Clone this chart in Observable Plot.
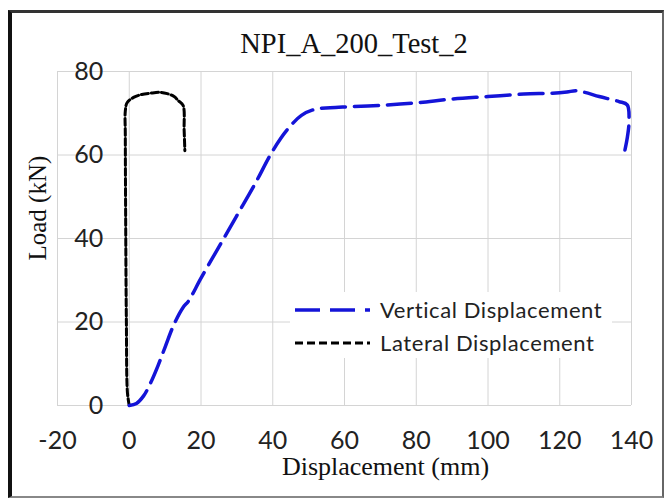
<!DOCTYPE html>
<html>
<head>
<meta charset="utf-8">
<script src="https://cdn.jsdelivr.net/npm/d3@7"></script>
<script src="https://cdn.jsdelivr.net/npm/@observablehq/plot@0.6"></script>
<style>
  body { margin: 0; background: #fff; }
  #wrap { position: relative; width: 667px; height: 500px; overflow: hidden; background: #fff; }
  #frame { position: absolute; left: 8px; top: 10px; width: 656px; height: 488px; box-sizing: border-box;
           border-left: 4px solid #111; border-top: 3px solid #333; border-right: 2px solid #666; border-bottom: 2px solid #888; }
  #title { position: absolute; top: 30px; left: 354px; transform: translateX(-50%);
           font: 28.5px/28px "Liberation Serif", "Times New Roman", serif; white-space: nowrap; color: #111; }
  #chart { position: absolute; left: 0; top: 40px; }
  #legend { position: absolute; left: 290px; top: 292px; }
</style>
</head>
<body>
<div id="wrap">
  <div id="frame"></div>
  <div id="title"></div>
  <div id="chart"></div>
  <svg id="legend" width="322" height="66"></svg>
</div>
<script>
// ---- data ----
const chartTitle = "NPI_A_200_Test_2";
const xLabel = "Displacement (mm)";
const yLabel = "Load (kN)";
const xTicks = [-20, 0, 20, 40, 60, 80, 100, 120, 140];
const yTicks = [0, 20, 40, 60, 80];
const seriesNames = ["Vertical Displacement", "Lateral Displacement"];

const vertX = [0, 2, 4, 6, 8, 10, 12.5, 15, 16.5, 20, 25, 30, 35, 40, 44, 48, 52, 56, 60, 70, 80, 90, 100, 110, 118, 122, 124.5, 127, 131, 136.5, 138.8, 139.3, 138.8, 138];
const vertY = [0, 0.5, 2.3, 5.5, 9.5, 14, 19.5, 23.5, 25, 30.5, 38, 45.5, 53, 61, 66, 69.5, 71, 71.3, 71.5, 71.9, 72.5, 73.4, 74, 74.6, 74.8, 75.1, 75.4, 75, 74, 72.8, 72, 68, 64, 60.5];

const latX = [0, -0.5, -0.8, -1.0, -1.1, -1.1, -0.6, 1.2, 3.5, 5.9, 8.7, 10.6, 12.5, 13.7, 15, 15.3, 15.5];
const latY = [0, 3, 20, 45, 65, 70.5, 72.5, 73.8, 74.5, 74.8, 75, 74.7, 74, 73, 71.9, 66, 61];

const colors = ["#1414d8", "#000000"];
const dashes = ["24,9", "7,3"];

// ---- build ----
const vert = vertX.map((x, i) => ({x, y: vertY[i]}));
const lat = latX.map((x, i) => ({x, y: latY[i]}));

document.getElementById("title").textContent = chartTitle;

const serif = "'Liberation Serif', 'Times New Roman', serif";
const sans = "Lato, 'Open Sans', sans-serif";

const chart = Plot.plot({
  width: 667,
  height: 460,
  marginLeft: 57,
  marginRight: 36,
  marginTop: 31,
  marginBottom: 95,
  x: {domain: [-20, 140]},
  y: {domain: [0, 80], axis: null},
  style: {background: "transparent", fontFamily: sans},
  marks: [
    Plot.gridX(xTicks, {stroke: "#d4d4d4", strokeOpacity: 1, strokeWidth: 1}),
    Plot.gridY(yTicks, {stroke: "#d4d4d4", strokeOpacity: 1, strokeWidth: 1}),
    Plot.axisX(xTicks, {tickSize: 0, tickPadding: 26, fontSize: 25, label: null, fill: "#222", tickFormat: d => String(d)}),
    Plot.text(yTicks, {x: () => 0, y: d => d, text: d => String(d), dx: -26, textAnchor: "end", fontSize: 25, fill: "#222"}),
    Plot.line(lat, {x: "x", y: "y", stroke: colors[1], strokeWidth: 3, strokeDasharray: dashes[1], curve: "catmull-rom"}),
    Plot.line(vert, {x: "x", y: "y", stroke: colors[0], strokeWidth: 3.5, strokeDasharray: dashes[0], curve: "catmull-rom"}),
    Plot.text([xLabel], {frameAnchor: "bottom", dx: 41, dy: 69, fontSize: 26, fontFamily: serif, fill: "#111"}),
    Plot.text([yLabel], {frameAnchor: "left", rotate: -90, dx: -20, dy: 22, fontSize: 25, fontFamily: serif, fill: "#111"})
  ]
});
document.getElementById("chart").appendChild(chart);

// ---- legend ----
const lg = d3.select("#legend");
lg.append("rect").attr("width", 322).attr("height", 66).attr("fill", "#fff");
const rows = [18, 51];
seriesNames.forEach((name, i) => {
  lg.append("line").attr("x1", 5).attr("x2", 80).attr("y1", rows[i]).attr("y2", rows[i])
    .attr("stroke", colors[i]).attr("stroke-width", i === 0 ? 3.5 : 3)
    .attr("stroke-dasharray", i === 0 ? "25,10" : "8,4");
  lg.append("text").attr("x", 90).attr("y", rows[i] + 8).text(name)
    .attr("font-family", sans).attr("font-size", 22).attr("letter-spacing", 0.6).attr("fill", "#222");
});
</script>
</body>
</html>
